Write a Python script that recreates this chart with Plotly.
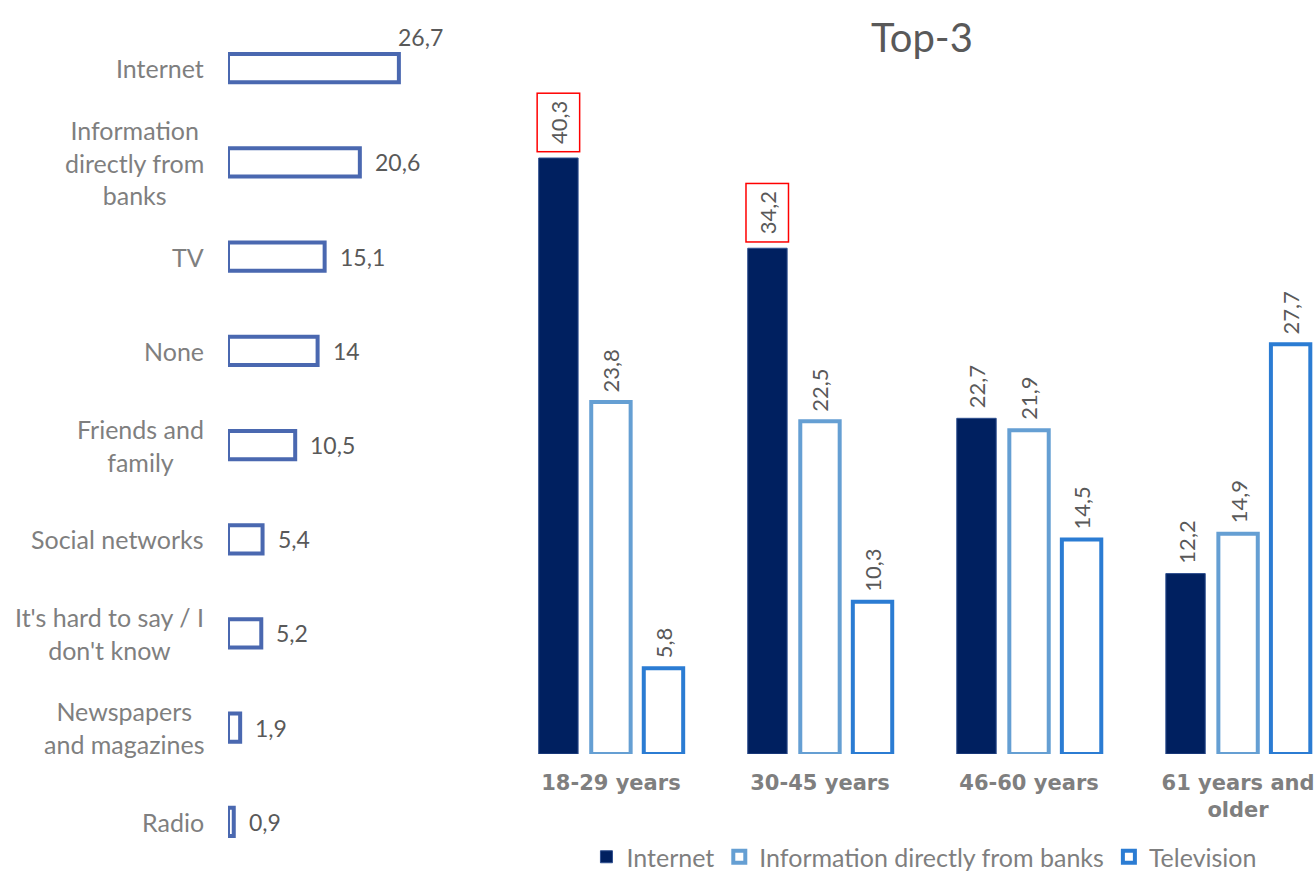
import plotly.graph_objects as go

# ---- data ----
left_categories = ["Internet", "Information directly from banks", "TV", "None",
                   "Friends and family", "Social networks",
                   "It's hard to say / I don't know", "Newspapers and magazines", "Radio"]
left_labels = ["Internet", "Information<br>directly from<br>banks", "TV", "None",
               "Friends and<br>family", "Social networks",
               "It's hard to say / I<br>don't know", "Newspapers<br>and magazines", "Radio"]
left_values = [26.7, 20.6, 15.1, 14.0, 10.5, 5.4, 5.2, 1.9, 0.9]

age_groups = ["18-29 years", "30-45 years", "46-60 years", "61 years and<br>older"]
series_names = ["Internet", "Information directly from banks", "Television"]
internet_vals = [40.3, 34.2, 22.7, 12.2]
banks_vals = [23.8, 22.5, 21.9, 14.9]
tv_vals = [5.8, 10.3, 14.5, 27.7]
highlighted = [(0, 0), (0, 1)]  # (series index, group index) with red box

title_text = "Top-3"

def fmt(v):
    s = ("%.1f" % v).replace(".", ",")
    return s[:-2] if s.endswith(",0") else s

FONT = "Lato"
GREY = "#7F7F7F"
DARK = "#595959"

fig = go.Figure()

# ---- left chart ----
fig.add_trace(go.Bar(
    x=left_values, y=left_categories, orientation="h",
    marker=dict(color="white", line=dict(color="#4A68B0", width=4)),
    width=0.3, xaxis="x", yaxis="y", showlegend=False, hoverinfo="skip"))

annotations = []
for i, (c, lab, v) in enumerate(zip(left_categories, left_labels, left_values)):
    annotations.append(dict(x=0, y=c, xref="x", yref="y", text=lab, showarrow=False,
                            xanchor="right", align="center", xshift=-22,
                            font=dict(family=FONT, size=25, color=GREY)))
    if i == 0:
        annotations.append(dict(x=v, y=c, xref="x", yref="y", text=fmt(v), showarrow=False,
                                xanchor="left", xshift=-3, yshift=31,
                                font=dict(family=FONT, size=23, color=DARK)))
    else:
        annotations.append(dict(x=v, y=c, xref="x", yref="y", text=fmt(v), showarrow=False,
                                xanchor="left", xshift=13,
                                font=dict(family=FONT, size=23, color=DARK)))

# ---- right chart ----
styles = [
    dict(color="#002060", line=dict(color="#2F4F8F", width=1)),
    dict(color="white", line=dict(color="#659FD3", width=4)),
    dict(color="white", line=dict(color="#2B7CD3", width=4)),
]
all_vals = [internet_vals, banks_vals, tv_vals]
for si, (name, vals) in enumerate(zip(series_names, all_vals)):
    fig.add_trace(go.Bar(x=age_groups, y=vals, name=name, marker=styles[si],
                         xaxis="x2", yaxis="y2", hoverinfo="skip"))

slot_px = 52.5
for si, vals in enumerate(all_vals):
    for gi, v in enumerate(vals):
        boxed = (si, gi) in highlighted
        annotations.append(dict(
            x=age_groups[gi], y=v, xref="x2", yref="y2", text=fmt(v), showarrow=False,
            textangle=-90, xanchor="center", yanchor="bottom",
            xshift=(si - 1) * slot_px, yshift=6 if boxed else 10,
            bordercolor="#FF0000" if boxed else None, borderwidth=1.5 if boxed else 0,
            borderpad=7 if boxed else 0,
            font=dict(family=FONT, size=22, color=DARK)))

annotations.append(dict(x=922 / 1315, y=1 - 37 / 880, xref="paper", yref="paper",
                        text=title_text, showarrow=False, xanchor="center", yanchor="middle",
                        font=dict(family=FONT, size=40, color=DARK)))

fig.update_layout(
    width=1315, height=880, template="none",
    margin=dict(l=0, r=0, t=0, b=0),
    paper_bgcolor="white", plot_bgcolor="white",
    barmode="group", bargap=0.246, bargroupgap=0.25,
    xaxis=dict(domain=[228 / 1315, 420 / 1315], range=[0, 30], visible=False, automargin=False),
    yaxis=dict(domain=[0.0125, 0.976], range=[8.5, -0.5], showticklabels=False,
               showgrid=False, zeroline=False, showline=False, ticks="", automargin=False,
               type="category", categoryorder="array", categoryarray=left_categories),
    xaxis2=dict(domain=[520 / 1315, 1.0], range=[-0.435, 3.368], anchor="y2",
                showgrid=False, zeroline=False, showline=False, ticks="", automargin=False,
                tickfont=dict(family="DejaVu Sans", size=21, color=GREY, weight="bold"),
                ticklabelstandoff=14),
    yaxis2=dict(domain=[0.1432, 0.8994], range=[0, 45], anchor="x2", visible=False,
                automargin=False),
    legend=dict(orientation="h", x=0.703, xanchor="center", y=0.0, yanchor="bottom",
                font=dict(family=FONT, size=25, color=GREY), bgcolor="rgba(0,0,0,0)",
                itemwidth=30),
    annotations=annotations,
)

fig.write_html("out.html")
